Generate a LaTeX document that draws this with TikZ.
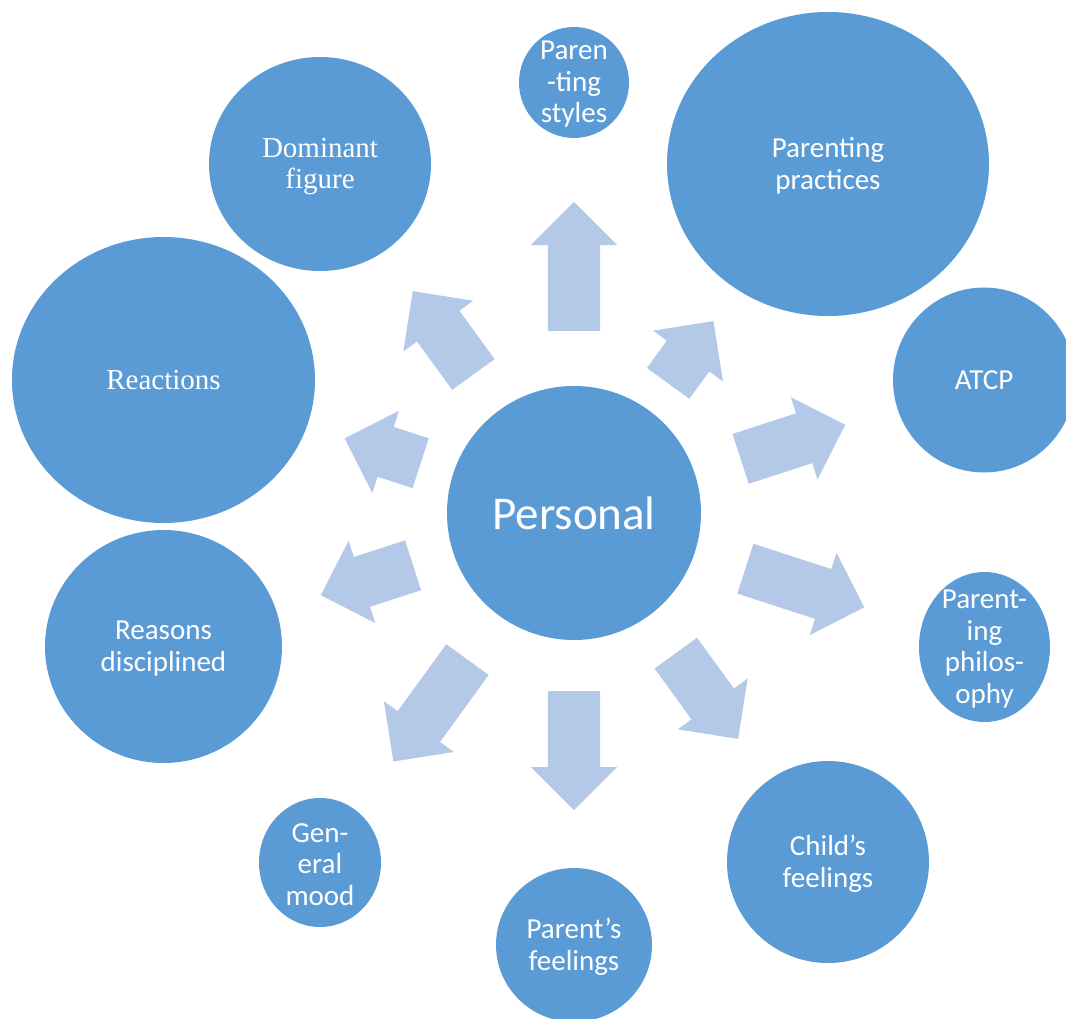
\documentclass[tikz,border=0pt]{standalone}
\usepackage{fontspec}
\setmainfont{Carlito}
\newfontfamily\timesface{Liberation Serif}
\usetikzlibrary{shapes.geometric,shapes.arrows}
\definecolor{bubblefill}{HTML}{5B9BD5}
\definecolor{arrowfill}{HTML}{B4C8E7}
\tikzset{
  bubble/.style={ellipse, fill=bubblefill, draw=none, inner sep=0pt},
  bubbletext/.style={text=white, align=center, inner sep=0pt, yshift=-2pt,
    font=\fontsize{29}{31.5}\selectfont},
  singleline/.style={text=white, inner sep=0pt, font=\fontsize{29}{31.5}\selectfont},
  seriftext/.style={bubbletext, yshift=-1pt, font=\timesface\fontsize{29}{31}\selectfont},
  radarrow/.style={single arrow, fill=arrowfill, draw=none,
    inner xsep=0pt, inner ysep=26pt, anchor=tail,
    single arrow head extend=17pt, single arrow tip angle=90},
}
\begin{document}
\begin{tikzpicture}[x=1pt,y=1pt]
\useasboundingbox (-574,-505) rectangle (492,513);

% central topic
\node[bubble, minimum width=254pt, minimum height=254pt] (personal) at (0,0) {};
\node[singleline, font=\fontsize{47}{50}\selectfont] (personal-t) at (personal.center) {Personal};

% surrounding topics
\node[bubble, minimum width=110pt, minimum height=111pt] (styles) at (0,430.5) {};
\node[bubbletext] (styles-t) at (styles.center) {Paren\\-ting\\styles};

\node[bubble, minimum width=322pt, minimum height=304pt] (practices) at (254,349) {};
\node[bubbletext] (practices-t) at (practices.center) {Parenting\\practices};

\node[bubble, minimum width=182pt, minimum height=185pt] (atcp) at (410,133) {};
\node[singleline] (atcp-t) at (atcp.center) {ATCP};

\node[bubble, minimum width=131pt, minimum height=150pt] (philosophy) at (410.5,-134) {};
\node[bubbletext] (philosophy-t) at (philosophy.center) {Parent-\\ing\\philos-\\ophy};

\node[bubble, minimum width=202pt, minimum height=202pt] (child) at (254,-349) {};
\node[bubbletext] (child-t) at (child.center) {Child’s\\feelings};

\node[bubble, minimum width=156pt, minimum height=154pt] (parent) at (0,-432) {};
\node[bubbletext] (parent-t) at (parent.center) {Parent’s\\feelings};

\node[bubble, minimum width=122pt, minimum height=129pt] (mood) at (-254,-349.5) {};
\node[bubbletext] (mood-t) at (mood.center) {Gen-\\eral\\mood};

\node[bubble, minimum width=237pt, minimum height=233pt] (reasons) at (-410.5,-133.5) {};
\node[bubbletext] (reasons-t) at (reasons.center) {Reasons\\disciplined};

\node[bubble, minimum width=303pt, minimum height=286pt] (reactions) at (-410.5,133) {};
\node[singleline, font=\timesface\fontsize{29}{31}\selectfont] (reactions-t) at (reactions.center) {Reactions};

\node[bubble, minimum width=222pt, minimum height=214pt] (dominant) at (-254,349) {};
\node[seriftext] (dominant-t) at (dominant.center) {Dominant\\figure};

% radiating block arrows, each placed by its tail
\node[radarrow, minimum height=129pt, rotate=90]   (ar-styles)     at (90:182)   {};
\node[radarrow, minimum height=77pt,  rotate=54]   (ar-practices)  at (54:160)   {};
\node[radarrow, minimum height=110pt, rotate=18]   (ar-atcp)       at (18:175)   {};
\node[radarrow, minimum height=125pt, rotate=-18]  (ar-philosophy) at (-18:180)  {};
\node[radarrow, minimum height=106pt, rotate=-54]  (ar-child)      at (-54:173)  {};
\node[radarrow, minimum height=119pt, rotate=-90]  (ar-parent)     at (-90:178)  {};
\node[radarrow, minimum height=126pt, rotate=-126] (ar-mood)       at (-126:181) {};
\node[radarrow, minimum height=97pt,  rotate=-162] (ar-reasons)    at (-162:169) {};
\node[radarrow, minimum height=80pt,  rotate=162]  (ar-reactions)  at (162:161)  {};
\node[radarrow, minimum height=103pt, rotate=126]  (ar-dominant)   at (126:171)  {};
\end{tikzpicture}
\end{document}
